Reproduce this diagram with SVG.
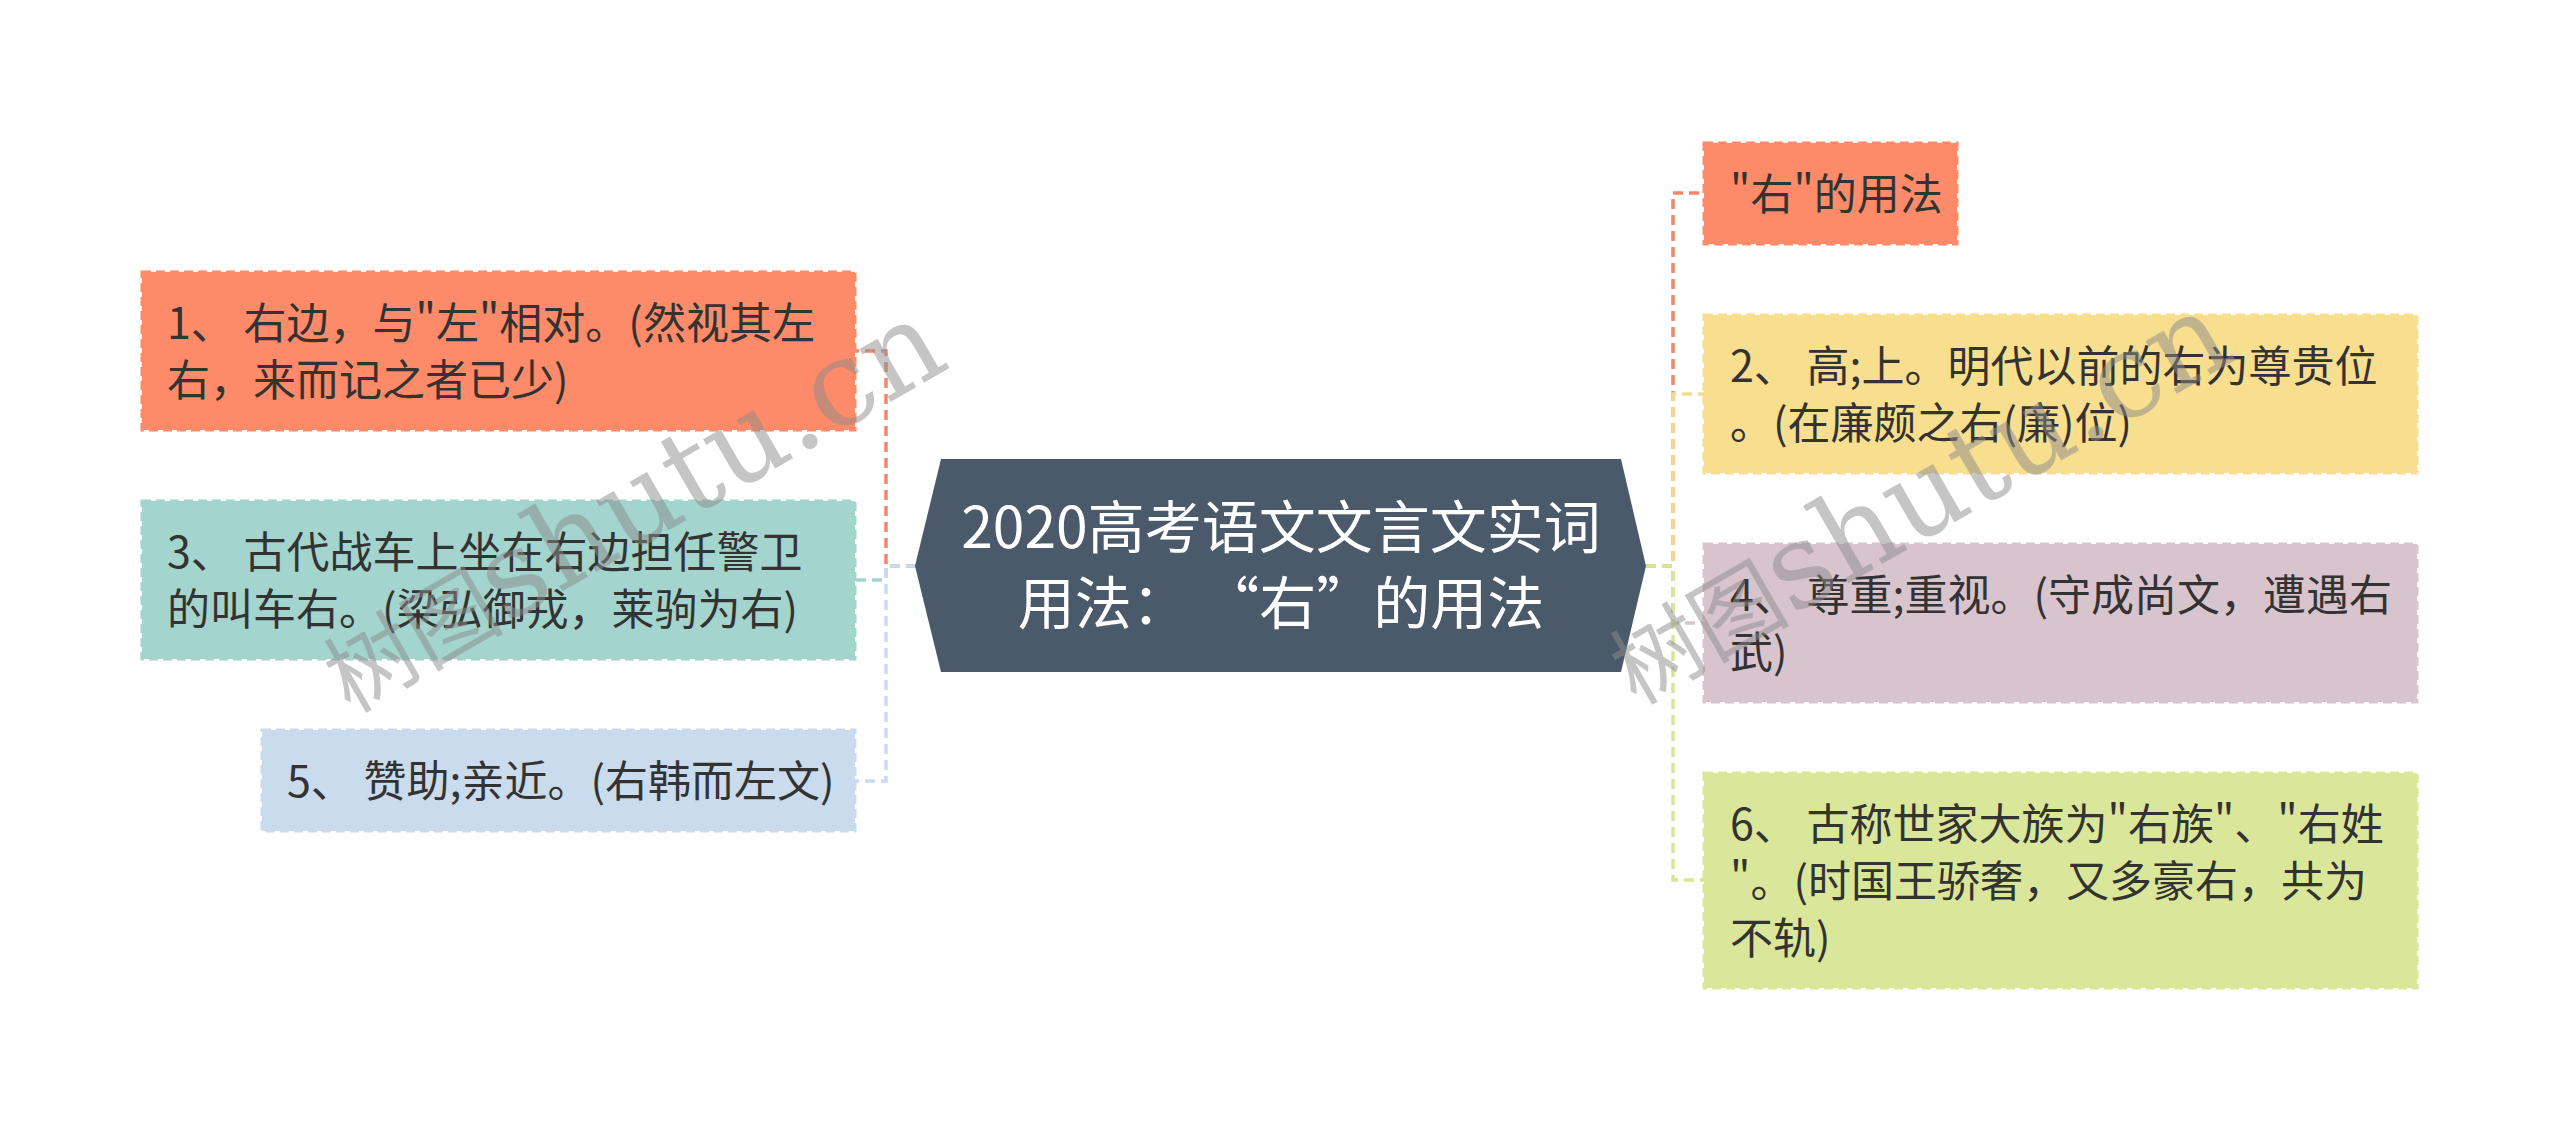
<svg xmlns="http://www.w3.org/2000/svg" width="2560" height="1132" viewBox="0 0 2560 1132" xml:lang="zh-CN">
<style>
.t{font-family:"Noto Sans CJK SC","Noto Sans",sans-serif;font-size:43px;fill:#333333}
.c{font-family:"Noto Sans CJK SC","Noto Sans",sans-serif;font-size:57px;fill:#ffffff;text-anchor:middle}
.box{stroke-width:3;stroke-dasharray:9 5}
.ln{fill:none;stroke-width:3.5;stroke-dasharray:10 6}
.wm{font-family:"DejaVu Serif","Liberation Serif",serif;font-size:118px;fill:#8c8c8c;opacity:0.5}
.wm .cj{font-family:"Noto Sans CJK SC",sans-serif;font-size:90px}
</style>
<rect width="2560" height="1132" fill="#ffffff"/>
<g id="connectors">
<path class="ln" stroke="#f4876a" d="M916,566 H886 V351 H855"/>
<path class="ln" stroke="#a3d4cd" d="M916,566 H886 V580 H855"/>
<path class="ln" stroke="#c9dbec" d="M916,566 H886 V781 H855"/>
<path class="ln" stroke="#f4876a" d="M1646,566 H1673 V193 H1704"/>
<path class="ln" stroke="#f6da8c" d="M1646,566 H1673 V394 H1704"/>
<path class="ln" stroke="#d8c4cd" d="M1646,566 H1673 V623 H1704"/>
<path class="ln" stroke="#d6e592" d="M1646,566 H1673 V880 H1704"/>
</g>
<g id="center">
<polygon points="915,566 941,459 1621,459 1646,566 1621,672 941,672" fill="#4a5a6a"/>
<text class="c" x="1281" y="548">2020高考语文文言文实词</text>
<text class="c" x="1281" y="624">用法：<tspan dx="42">“</tspan>右”的用法</text>
</g>
<g id="node1">
<rect class="box" x="142" y="272" width="713" height="158" fill="#fd8a68" stroke="#fd8a68"/>
<text class="t"><tspan x="167" y="339">1、 右边，与"左"相对。(然视其左</tspan><tspan x="167" y="396">右，来而记之者已少)</tspan></text>
</g>
<g id="node3">
<rect class="box" x="142" y="501" width="713" height="158" fill="#a3d4cd" stroke="#a3d4cd"/>
<text class="t"><tspan x="167" y="568">3、 古代战车上坐在右边担任警卫</tspan><tspan x="167" y="625">的叫车右。(梁弘御戎，莱驹为右)</tspan></text>
</g>
<g id="node5">
<rect class="box" x="262" y="730" width="593" height="101" fill="#c9dbec" stroke="#c9dbec"/>
<text class="t" x="287" y="797">5、 赞助;亲近。(右韩而左文)</text>
</g>
<g id="node0">
<rect class="box" x="1704" y="143" width="253" height="101" fill="#fd8a68" stroke="#fd8a68"/>
<text class="t" x="1730" y="210">"右"的用法</text>
</g>
<g id="node2">
<rect class="box" x="1704" y="315" width="713" height="158" fill="#f8de8f" stroke="#f8de8f"/>
<text class="t"><tspan x="1730" y="382">2、 高;上。明代以前的右为尊贵位</tspan><tspan x="1730" y="439">。(在廉颇之右(廉)位)</tspan></text>
</g>
<g id="node4">
<rect class="box" x="1704" y="544" width="713" height="158" fill="#d8c4cd" stroke="#d8c4cd"/>
<text class="t"><tspan x="1730" y="611">4、 尊重;重视。(守成尚文，遭遇右</tspan><tspan x="1730" y="668">武)</tspan></text>
</g>
<g id="node6">
<rect class="box" x="1704" y="773" width="713" height="215" fill="#dae79a" stroke="#dae79a"/>
<text class="t"><tspan x="1730" y="840">6、 古称世家大族为"右族"、"右姓</tspan><tspan x="1730" y="897">"。(时国王骄奢，又多豪右，共为</tspan><tspan x="1730" y="954">不轨)</tspan></text>
</g>
<g id="watermark">
<text class="wm" transform="translate(350,714) rotate(-30)"><tspan class="cj">树图</tspan>shutu.cn</text>
<text class="wm" transform="translate(1636,706) rotate(-30)"><tspan class="cj">树图</tspan>shutu.cn</text>
</g>
</svg>
